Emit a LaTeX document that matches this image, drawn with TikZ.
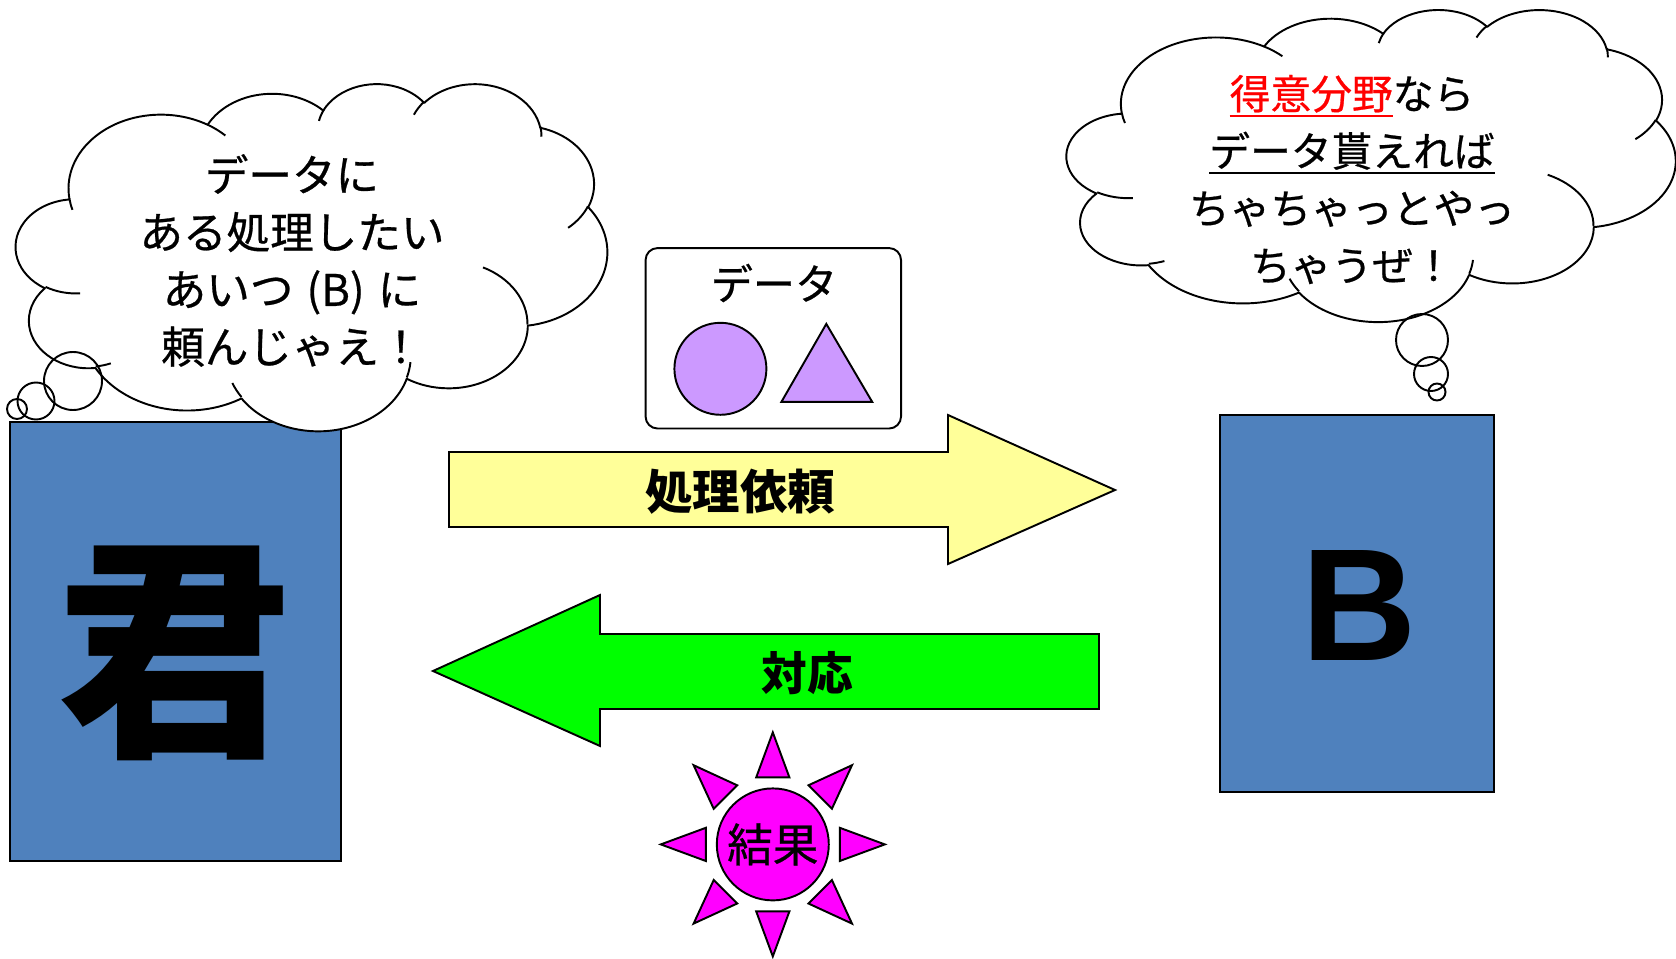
\documentclass[tikz,border=0pt]{standalone}
\usepackage{fontspec}
\setmainfont{Noto Sans CJK JP}
\newfontfamily\jpfont{Noto Sans CJK JP}
\newfontfamily\jpmed[FakeBold=0.6]{Noto Sans CJK JP}
\newfontfamily\arialfont{Liberation Sans}
\definecolor{boxblue}{HTML}{4F81BD}
\definecolor{reqyellow}{HTML}{FFFF99}
\definecolor{resgreen}{HTML}{00FF00}
\definecolor{datapurple}{HTML}{CC99FF}
\definecolor{sunmagenta}{HTML}{FF00FF}
\definecolor{hotred}{HTML}{FF0000}

% arc of an OOXML-style cloud: name, x radius, y radius, start angle, sweep (visual angles)
\newcommand\oocalc[5]{%
  \pgfmathsetmacro\tmpAngS{atan2((#2)*sin(#4),(#3)*cos(#4))}%
  \pgfmathsetmacro\tmpAngE{atan2((#2)*sin((#4)+(#5)),(#3)*cos((#4)+(#5)))}%
  \pgfmathsetmacro\tmpAngD{mod((\tmpAngE)-(\tmpAngS)+720,360)}%
  \expandafter\xdef\csname #1\endcsname{arc[x radius=#2,y radius=#3,start angle=\tmpAngS,delta angle=\tmpAngD]}%
}
\oocalc{cloudA}{156.32}{212.73}{-190.4875}{123.7805}
\oocalc{cloudB}{123.45}{168.22}{-144.1024}{89.9452}
\oocalc{cloudC}{101.04}{137.62}{-145.8079}{99.7230}
\oocalc{cloudD}{112.43}{152.66}{-130.9861}{117.2417}
\oocalc{cloudE}{123.45}{168.36}{-78.7089}{109.0269}
\oocalc{cloudF}{156.83}{213.43}{-46.2673}{130.2690}
\oocalc{cloudG}{133.91}{182.11}{0.6250}{114.0333}
\oocalc{cloudH}{156.30}{213.31}{22.4516}{115.1726}
\oocalc{cloudI}{178.70}{244.05}{66.2426}{75.7110}
\oocalc{cloudJ}{100.93}{136.99}{-274.9421}{146.7356}
\oocalc{cloudK}{100.58}{137.62}{-246.8285}{152.5189}
\oocalc{cloudia}{100.58}{137.62}{86.7420}{26.4295}
\oocalc{cloudib}{100.93}{136.99}{73.6105}{11.4475}
\oocalc{cloudic}{156.30}{213.31}{137.6242}{14.0811}
\oocalc{cloudid}{156.30}{213.31}{6.4533}{15.9984}
\oocalc{cloudie}{133.91}{182.11}{-70.2924}{70.9174}
\oocalc{cloudif}{123.45}{168.36}{30.3180}{27.7515}
\oocalc{cloudig}{112.43}{152.66}{-13.7443}{14.8589}
\oocalc{cloudih}{112.43}{152.66}{-149.1815}{18.1954}
\oocalc{cloudii}{101.04}{137.62}{-163.4943}{17.6864}
\oocalc{cloudij}{156.32}{212.73}{-66.7070}{12.3194}
\oocalc{cloudik}{156.32}{212.73}{157.6544}{11.8582}

\newcommand\drawcloud{%
  \filldraw[cloudline, fill=white] (90.28,332.64) \cloudA \cloudB \cloudC \cloudD \cloudE \cloudF \cloudG \cloudH \cloudI \cloudJ \cloudK -- cycle;
  \draw[cloudline] (108.63,605.95) \cloudia (160.37,807.85) \cloudib (381.44,904.86) \cloudic
    (667.29,804.42) \cloudid (790.02,531.34) \cloudie (967.55,355.42) \cloudif
    (887.13,125.60) \cloudig (673.10,91.48) \cloudih (512.52,109.26) \cloudii
    (324.07,120.19) \cloudij (95.53,365.49) \cloudik;
}
\newcommand\ulx[1]{\leavevmode\setbox0\hbox{#1}\rlap{\rule[-4.5pt]{\wd0}{1.1pt}}\box0}

\begin{document}
\begin{tikzpicture}[x=0.02cm, y=-0.02cm,
  every node/.style={inner sep=0pt, outer sep=0pt},
  personbox/.style={draw=black, line width=1.1pt, fill=boxblue},
  cloudline/.style={draw=black, line width=1.1pt, line join=round},
  thought/.style={draw=black, line width=1.1pt},
  blockarrow/.style={draw=black, line width=1.1pt, line join=miter},
  sunray/.style={draw=black, line width=1.1pt, fill=sunmagenta, line join=miter},
  cloudtext/.style={align=center, font=\jpmed\fontsize{#1}{32.6pt}\selectfont},
  bigjp/.style={font=\jpfont\bfseries\fontsize{#1}{32pt}\selectfont}
]
\useasboundingbox (0,0) rectangle (1676,959);
\fill[white] (0,0) rectangle (1676,959);

% persons
\node[personbox, minimum width=6.62cm, minimum height=8.78cm] (kimibox) at (175.5,641.5) {};
\node[font=\jpfont\bfseries\fontsize{134pt}{140pt}\selectfont] (kimi) at (175,653) {君};
\node[personbox, minimum width=5.48cm, minimum height=7.54cm] (bbox) at (1357,603.5) {};
\node[font=\arialfont\bfseries\fontsize{91pt}{95pt}\selectfont] (bletter) at (1359.5,605.5) {B};

% left cloud
\begin{scope}[xshift=0.32cm, yshift=-1.66cm, x=0.01182cm, y=-0.00694cm]
  \drawcloud
\end{scope}
\draw[thought] (73,381) circle[radius=29];
\draw[thought] (36,401) circle[radius=18.5];
\draw[thought] (17,409) circle[radius=10];
\node[cloudtext=24.8pt] (lefttext) at (292,260.5) {データに\\ある処理したい\\あいつ\hspace{0.3em}(B)\hspace{0.3em}に\\頼んじゃえ！};

% right cloud
\begin{scope}[xshift=21.34cm, yshift=-0.18cm, x=0.01218cm, y=-0.00624cm]
  \drawcloud
\end{scope}
\draw[thought] (1422,340) circle[radius=26];
\draw[thought] (1431,374) circle[radius=17];
\draw[thought] (1437,392) circle[radius=8.5];
\node[cloudtext=23.2pt] (righttext) at (1352,179.5) {\textcolor{hotred}{\ulx{得意分野}}なら\\\ulx{データ貰えれば}\\ちゃちゃっとやっ\\ちゃうぜ！};

% data
\node[draw=black, line width=1.1pt, rounded corners=0.24cm, fill=white, minimum width=5.11cm, minimum height=3.61cm] (databox) at (773.3,338.3) {};
\node[font=\jpmed\fontsize{24pt}{28pt}\selectfont] (datalabel) at (774,283) {データ};
\node[circle, draw=black, line width=1.1pt, fill=datapurple, minimum size=1.84cm] (datacircle) at (720.4,368.8) {};
\filldraw[draw=black, line width=1.1pt, fill=datapurple, line join=miter] (826.3,323.9) -- (872.2,401.9) -- (781.4,401.9) -- cycle;

% request arrow
\filldraw[blockarrow, fill=reqyellow] (449,452) -- (948,452) -- (948,415) -- (1115,490) -- (948,564) -- (948,527) -- (449,527) -- cycle;
\node[bigjp=27pt] (reqlabel) at (740,492) {処理依頼};

% response arrow
\filldraw[blockarrow, fill=resgreen] (1099,634) -- (600,634) -- (600,595) -- (433,671) -- (600,746) -- (600,709) -- (1099,709) -- cycle;
\node[bigjp=26pt] (reslabel) at (807,673) {対応};

% result sun
\node[circle, draw=black, line width=1.1pt, fill=sunmagenta, minimum size=2.24cm, font=\jpmed\fontsize{26pt}{30pt}\selectfont] (sun) at (772.8,844.4) {結果};
\begin{scope}[shift={(772.8,844.4)}]
  \foreach \a in {0,45,...,315}
    \filldraw[sunray, rotate=\a] (67,-16.6) -- (112,0) -- (67,16.6) -- cycle;
\end{scope}
\end{tikzpicture}
\end{document}
